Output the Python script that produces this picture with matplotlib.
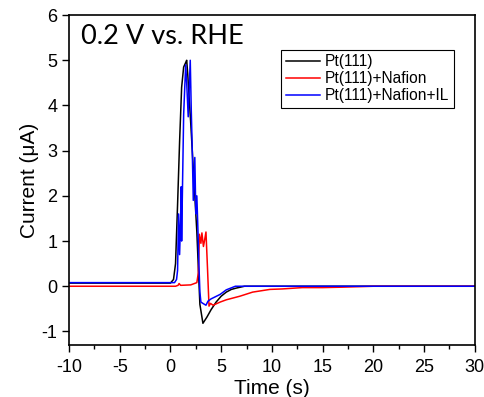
import matplotlib.pyplot as plt
from matplotlib.ticker import MultipleLocator

# Transient current traces (time in s, current in uA)
t_pt = [-10, 0.0, 0.3, 0.5, 0.7, 0.9, 1.1, 1.3, 1.5, 1.6, 1.7, 2.0, 2.3, 2.6, 2.9, 3.2, 3.6, 4.0, 4.5, 5.0, 5.5, 6.0, 6.5, 7.3, 10, 20, 30]
i_pt = [0.07, 0.07, 0.15, 0.5, 1.8, 3.2, 4.4, 4.85, 4.95, 5.0, 4.7, 3.6, 2.4, 1.2, -0.4, -0.82, -0.68, -0.52, -0.35, -0.22, -0.13, -0.07, -0.04, 0.0, 0.0, 0.0, 0.0]

t_naf = [-10, 0.5, 0.75, 0.85, 1.0, 2.0, 2.6, 2.75, 2.85, 3.0, 3.1, 3.25, 3.35, 3.5, 3.65, 3.8, 3.95, 4.2, 4.9, 5.5, 6.85, 8.1, 9.8, 11, 13, 15, 17, 20, 30]
i_naf = [0.0, 0.0, 0.02, 0.06, 0.02, 0.03, 0.08, 0.3, 1.15, 0.95, 1.18, 0.88, 1.0, 1.2, 0.4, -0.44, -0.38, -0.42, -0.35, -0.3, -0.22, -0.13, -0.07, -0.06, -0.03, -0.03, -0.02, 0.0, 0.0]

t_il = [-10, 0.4, 0.6, 0.7, 0.8, 0.9, 1.0, 1.05, 1.1, 1.3, 1.5, 1.6, 1.75, 1.95, 2.05, 2.15, 2.25, 2.4, 2.5, 2.6, 2.7, 2.8, 2.9, 3.0, 3.2, 3.5, 3.7, 4.0, 4.9, 5.5, 6.4, 10, 20, 30]
i_il = [0.08, 0.08, 0.15, 0.35, 1.6, 0.7, 1.5, 2.2, 1.0, 3.8, 4.9, 4.5, 3.75, 5.0, 3.9, 3.0, 1.9, 2.85, 1.6, 2.0, 1.3, 0.5, -0.13, -0.35, -0.38, -0.42, -0.33, -0.28, -0.18, -0.08, 0.0, 0.0, 0.0, 0.0]

labels = ['Pt(111)', 'Pt(111)+Nafion', 'Pt(111)+Nafion+IL']
colors = ['black', 'red', 'blue']

plt.rcParams['font.family'] = ['Liberation Sans', 'DejaVu Sans']
plt.rcParams['axes.unicode_minus'] = False

fig = plt.figure(figsize=(4.84, 3.97), dpi=100)
ax = fig.add_axes([0.1426, 0.131, 0.8384, 0.831])

for t, i, lab, c in zip([t_pt, t_naf, t_il], [i_pt, i_naf, i_il], labels, colors):
    ax.plot(t, i, color=c, lw=1.1, label=lab)

ax.set_xlim(-10, 30)
ax.set_ylim(-1.3, 6)
ax.xaxis.set_major_locator(MultipleLocator(5))
ax.xaxis.set_minor_locator(MultipleLocator(2.5))
ax.yaxis.set_major_locator(MultipleLocator(1))
ax.tick_params(axis='both', direction='out', labelsize=13, length=5, width=1, top=False, right=False)
ax.tick_params(axis='x', pad=5)
ax.tick_params(axis='x', which='minor', length=3, width=1, top=False)
for s in ax.spines.values():
    s.set_linewidth(1.2)

ax.set_xlabel('Time (s)', fontsize=15)
ax.xaxis.set_label_coords(0.5, -0.132)
ax.xaxis.label.set_va('center')
ax.set_ylabel('Current (\u03bcA)', fontsize=15, labelpad=2)

ax.text(0.03, 0.935, '0.2 V vs. RHE', transform=ax.transAxes, fontsize=19.5,
        family=['Lato', 'DejaVu Sans'], ha='left', va='center')

leg = ax.legend(loc='upper right', bbox_to_anchor=(0.948, 0.895), fontsize=11.2,
                frameon=True, fancybox=False, edgecolor='black', framealpha=1,
                handlelength=2.2, labelspacing=0.12, borderpad=0.3, handletextpad=0.3,
                borderaxespad=0)
leg.get_frame().set_linewidth(0.8)

fig.savefig('out.png', dpi=100)
